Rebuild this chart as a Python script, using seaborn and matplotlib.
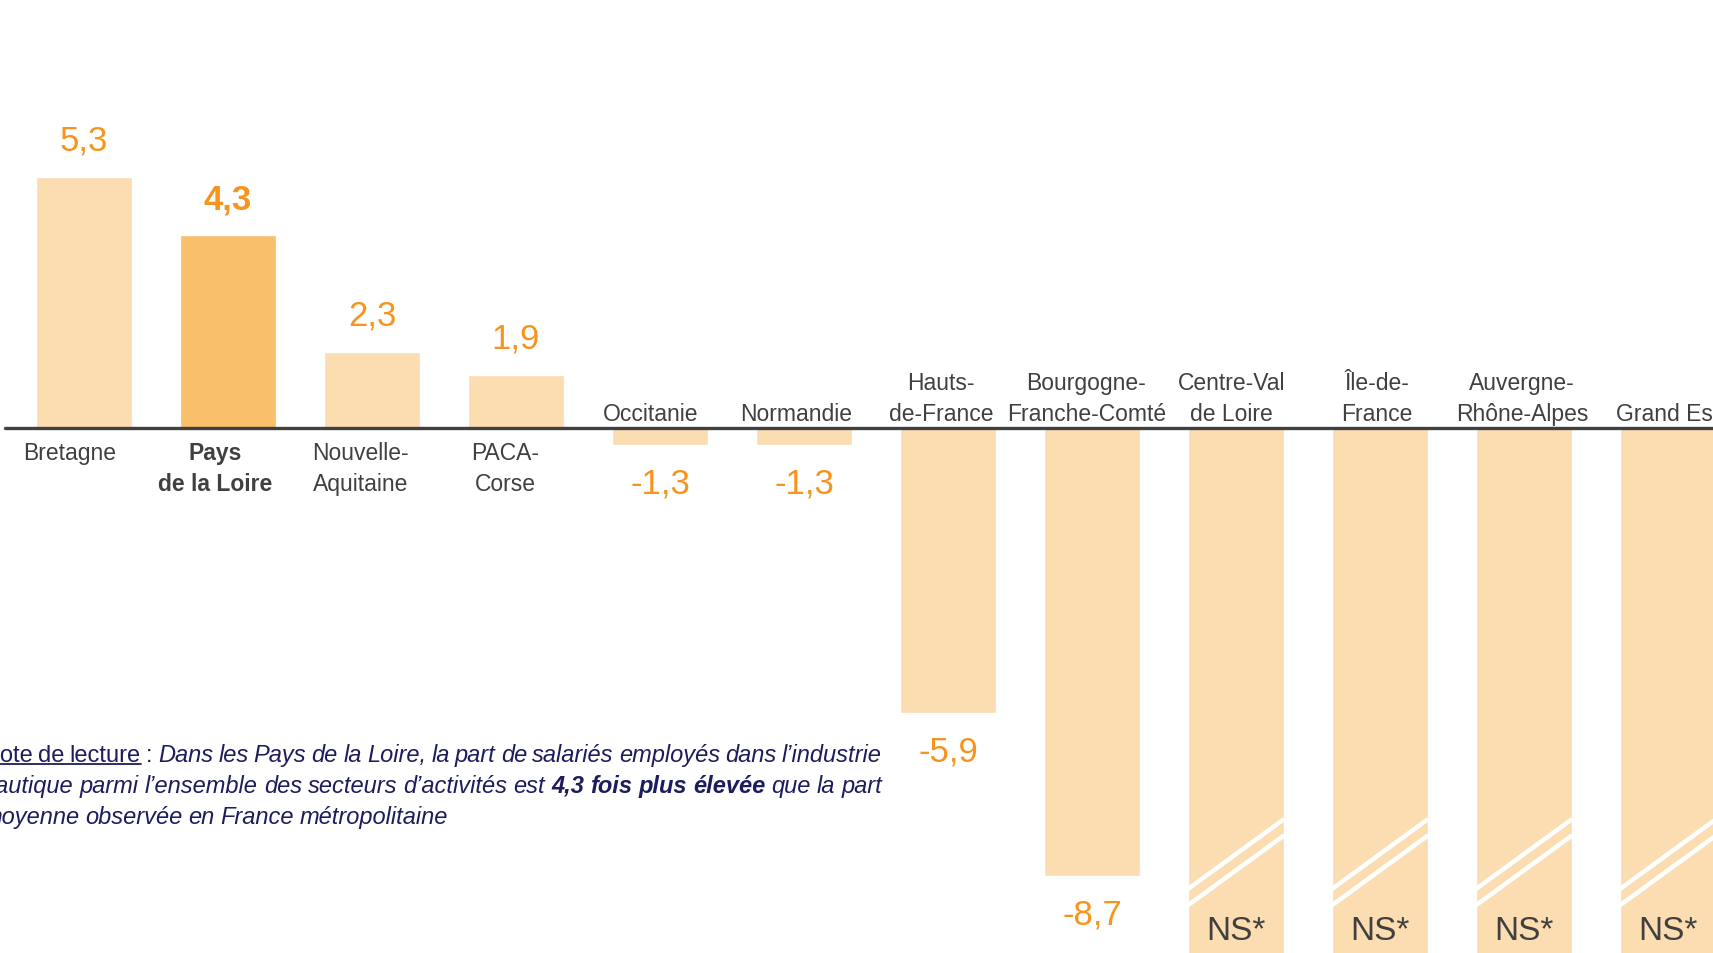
import matplotlib
matplotlib.use('Agg')
from matplotlib import pyplot as plt
from matplotlib.lines import Line2D
import seaborn as sns
import pandas as pd

# regions, ratio to France métropolitaine (negative = n times lower), None = NS
regions = ["Bretagne", "Pays\nde la Loire", "Nouvelle-\nAquitaine", "PACA-\nCorse", "Occitanie", "Normandie",
           "Hauts-\nde-France", "Bourgogne-\nFranche-Comté", "Centre-Val\nde Loire", "Île-de-\nFrance",
           "Auvergne-\nRhône-Alpes", "Grand Est"]
ratios = [5.3, 4.3, 2.3, 1.9, -1.3, -1.3, -5.9, -8.7, None, None, None, None]
highlight = "Pays\nde la Loire"

note = [
    [("Note de lecture", "u"), (":", "n"),
     ("Dans les Pays de la Loire, la part de salariés employés dans l’industrie", "i")],
    [("nautique parmi l’ensemble des secteurs d’activités est", "i"), ("4,3 fois plus élevée", "b"),
     ("que la part", "i")],
    [("moyenne observée en France métropolitaine", "i")],
]

LIGHT = "#FCDDB1"
DARK = "#F9BF6A"
ORANGE = "#F7941D"
GREY = "#404040"
NAVY = "#1C1C5E"

sns.set_theme(style="white")
plt.rcParams['font.family'] = ['Liberation Sans', 'DejaVu Sans']

W, H = 1713, 954
fig = plt.figure(figsize=(W / 100, H / 100), dpi=100)
ax = fig.add_axes([0, 0, 1, 1])

# pixel geometry of the original slide
x0_px, step_px = 84, 144
base_px, unit_px = 428.5, 58.2
xlim = (-x0_px / step_px, (W - x0_px) / step_px)
ylim = (-(H - base_px) / unit_px, base_px / unit_px)

# bars start from 1 (same level as France): height = |ratio| - 1
heights = []
for r in ratios:
    if r is None:
        heights.append(ylim[0] - 1)
    elif r > 0:
        heights.append(r - 1)
    else:
        heights.append(r + 1)

df = pd.DataFrame({"region": regions, "h": heights})
palette = {reg: (DARK if reg == highlight else LIGHT) for reg in regions}
sns.barplot(data=df, x="region", y="h", hue="region", palette=palette, width=0.667,
            saturation=1, legend=False, ax=ax)

ax.set_xlim(*xlim)
ax.set_ylim(*ylim)
ax.axis('off')
ax.axhline(0, xmin=5 / W, xmax=1, color=GREY, lw=2.4, zorder=5)

for i, (reg, r, h) in enumerate(zip(regions, ratios, heights)):
    bold = reg == highlight
    nudge = (-14 + 1.2 * i) / step_px
    if r is not None:
        lab = f"{r:.1f}".replace(".", ",")
        off = 26.5 if h > 0 else -27.5
        ax.annotate(lab, (i, h), xytext=(0, off), textcoords="offset points", ha="center", va="center",
                    fontsize=25, color=ORANGE, fontweight="bold" if bold else "normal")
    else:
        ax.annotate("NS*", (i, ylim[0]), xytext=(0, 16.5), textcoords="offset points", ha="center",
                    va="center", fontsize=24, color=GREY)
    if r is not None and r > 0:
        ax.annotate(reg, (i + nudge, 0), xytext=(0, -10), textcoords="offset points", ha="center", va="top",
                    fontsize=16.5, color=GREY, linespacing=1.45, fontweight="bold" if bold else "normal")
    else:
        ax.annotate(reg, (i + nudge, 0), xytext=(0, 1.5), textcoords="offset points", ha="center",
                    va="bottom", fontsize=16.5, color=GREY, linespacing=1.45)

# break marks on the NS bars
for i, p in enumerate(ax.patches):
    if i < len(ratios) and ratios[i] is None:
        xa, xb = p.get_x(), p.get_x() + p.get_width()
        for ya in (1.10, 0.82):
            ax.plot([xa, xb], [ylim[0] + ya, ylim[0] + ya + 1.2], color="white", lw=3.2,
                    solid_capstyle="butt", zorder=4)

# justified reading note
fig.canvas.draw()
renderer = fig.canvas.get_renderer()
left_px, right_px = -17, 882
baselines = [762, 793, 824]
styles = {"u": dict(), "n": dict(), "i": dict(style="italic"), "b": dict(style="italic", weight="bold")}
for li, line in enumerate(note):
    words = [(w, k) for phrase, k in line for w in phrase.split()]
    texts = [fig.text(0, 0, w, fontsize=17, color=NAVY, va="baseline", ha="left", **styles[k])
             for w, k in words]
    widths = [t.get_window_extent(renderer).width for t in texts]
    if li < len(note) - 1:
        gap = (right_px - left_px - sum(widths)) / (len(words) - 1)
    else:
        gap = 5.5
    x = left_px
    y = 1 - baselines[li] / H
    u_start = u_end = None
    for t, wdt, (w, k) in zip(texts, widths, words):
        t.set_position((x / W, y))
        if k == "u":
            u_start = x if u_start is None else u_start
            u_end = x + wdt
        x += wdt + gap
    if u_start is not None:
        fig.add_artist(Line2D([u_start / W, u_end / W], [y - 3 / H, y - 3 / H], color=NAVY, lw=1.3))

fig.savefig("out.png", dpi=100)
